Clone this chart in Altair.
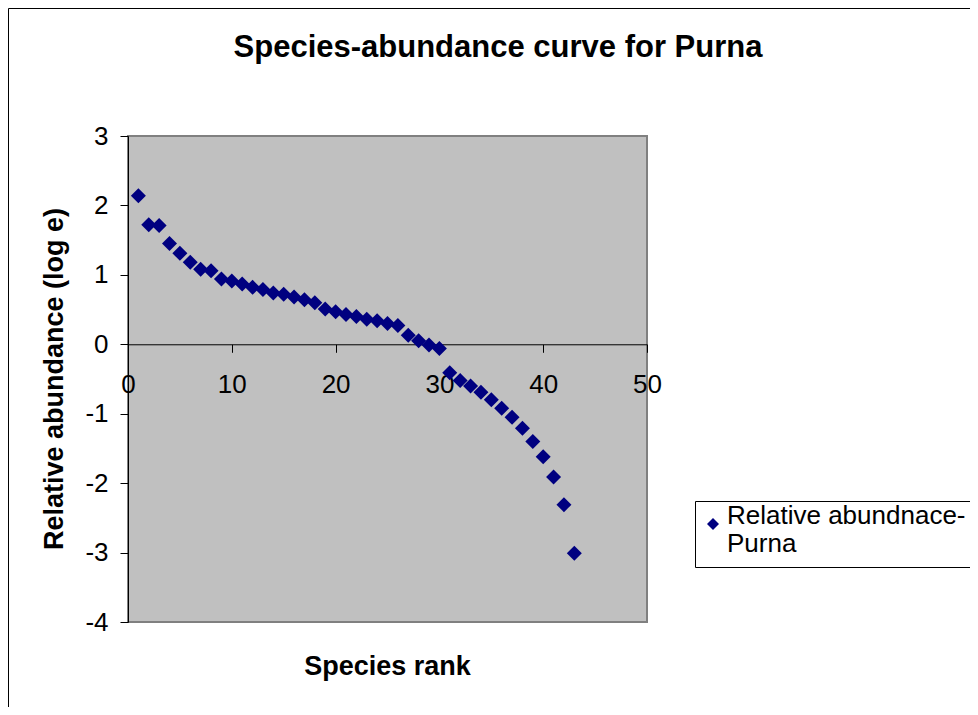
import altair as alt
import pandas as pd

# ---- data ----
rank = list(range(1, 44))
abundance = [2.14, 1.72, 1.71, 1.45, 1.31, 1.18, 1.08, 1.06, 0.94, 0.91,
             0.87, 0.82, 0.79, 0.74, 0.72, 0.68, 0.64, 0.60, 0.51, 0.47,
             0.43, 0.40, 0.36, 0.34, 0.30, 0.27, 0.13, 0.05, -0.01, -0.06,
             -0.41, -0.52, -0.60, -0.69, -0.80, -0.92, -1.05, -1.21, -1.40, -1.62,
             -1.91, -2.31, -3.01]
series_name = "Relative abundnace-Purna"
title_text = "Species-abundance curve for Purna"
x_title = "Species rank"
y_title = "Relative abundance (log e)"
x_ticks = [0, 10, 20, 30, 40, 50]
y_ticks = [-4, -3, -2, -1, 0, 1, 2, 3]

W, H = 519, 486
FONT = "Liberation Sans"
zero_offset = H * 3 / 7 - H  # x axis crosses at y = 0

df = pd.DataFrame({"rank": rank, "abundance": abundance,
                   "series": [series_name] * len(rank)})
one = pd.DataFrame({"k": [0]})

frame = alt.Chart(one).mark_rect(fillOpacity=0, stroke="black", strokeWidth=1).encode(
    x=alt.value(-119.5), x2=alt.value(900), y=alt.value(-127.5), y2=alt.value(700)
)

points = alt.Chart(df).mark_point(shape="diamond", filled=True, size=225, opacity=1).encode(
    x=alt.X("rank:Q", scale=alt.Scale(domain=[0, 50], nice=False),
            axis=alt.Axis(values=x_ticks, title=None, grid=False, offset=zero_offset,
                          tickSize=8, labelPadding=19, labelFontSize=26, labelFlush=False,
                          labelOverlap=False, domainColor="black", tickColor="black",
                          labelColor="black", labelFont=FONT)),
    y=alt.Y("abundance:Q", scale=alt.Scale(domain=[-4, 3], nice=False, zero=False),
            axis=alt.Axis(values=y_ticks, title=None, grid=False, tickSize=8,
                          labelPadding=12, labelFontSize=26, labelOverlap=False,
                          domainColor="black", tickColor="black", labelColor="black",
                          labelFont=FONT, labelExpr="datum.value + ''")),
    color=alt.Color("series:N", scale=alt.Scale(range=["#000080"]),
                    legend=alt.Legend(title=None, orient="none", legendX=567, legendY=365,
                                      fillColor="white", strokeColor="black", padding=10,
                                      labelFontSize=26, labelFont=FONT, labelColor="black",
                                      labelLimit=500, symbolType="diamond", symbolSize=144,
                                      symbolStrokeWidth=0, labelOffset=1, symbolOffset=-5,
                                      labelBaseline="alphabetic",
                                      labelExpr="[slice(datum.label, 0, 19), slice(datum.label, 19)]")),
)

title = alt.Chart(one).mark_text(fontSize=31, fontWeight="bold", font=FONT, color="black",
                                 align="center", baseline="middle").encode(
    x=alt.value(370), y=alt.value(-88), text=alt.value(title_text))

xt = alt.Chart(one).mark_text(fontSize=27, fontWeight="bold", font=FONT, color="black",
                              align="center", baseline="middle").encode(
    x=alt.value(259.5), y=alt.value(531), text=alt.value(x_title))

yt = alt.Chart(one).mark_text(fontSize=27, fontWeight="bold", font=FONT, color="black",
                              align="center", baseline="middle", angle=270).encode(
    x=alt.value(-73), y=alt.value(243), text=alt.value(y_title))

chart = alt.layer(frame, points, title, xt, yt).properties(
    width=W, height=H,
    autosize=alt.AutoSizeParams(type="none"),
    padding={"left": 120, "top": 128, "right": 323, "bottom": 85},
).configure_view(fill="#C0C0C0", stroke="#808080", strokeWidth=2)

chart.save("out.html", embed_options={"renderer": "svg", "actions": False})
